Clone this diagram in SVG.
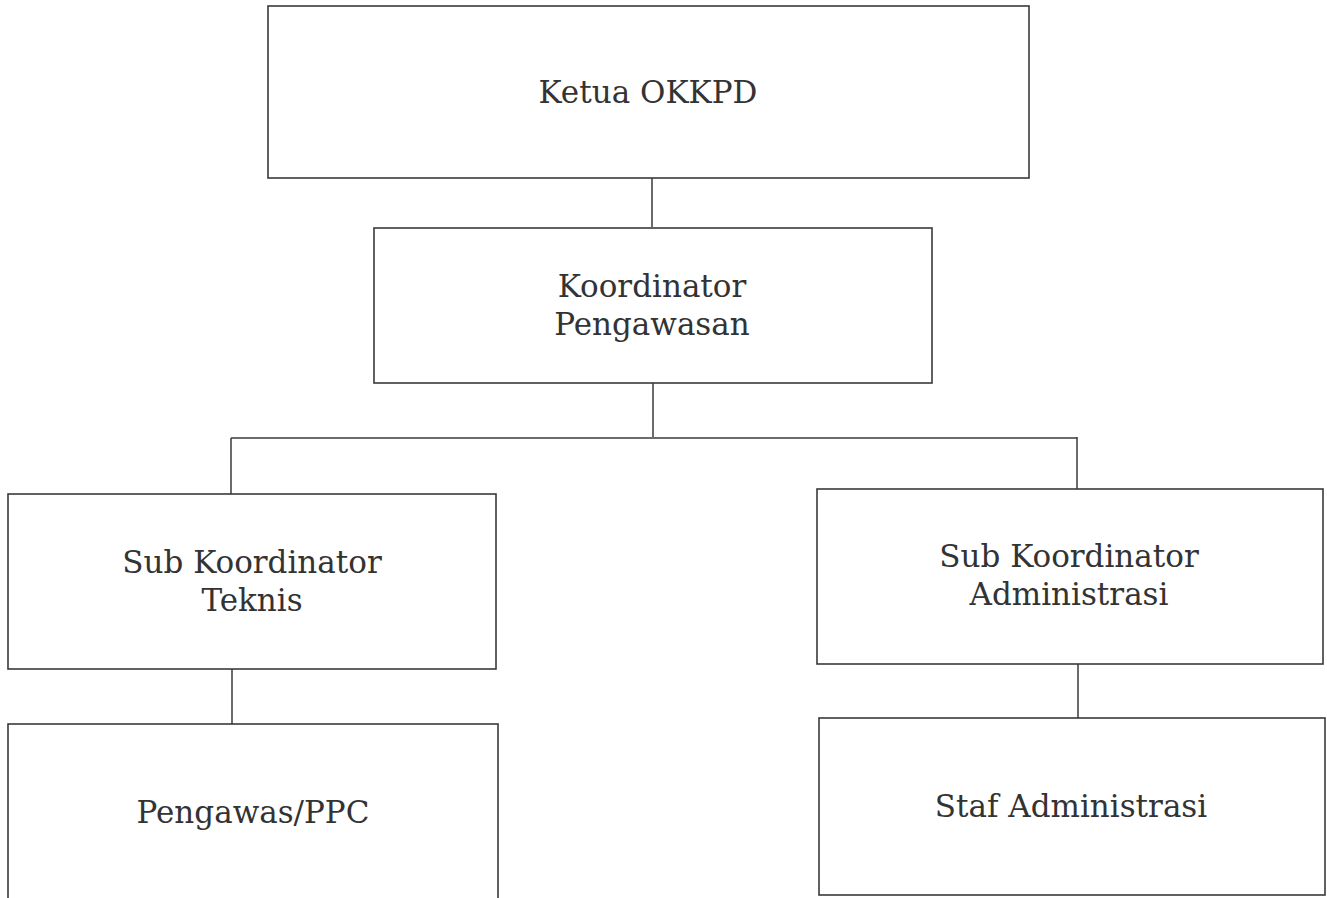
<svg xmlns="http://www.w3.org/2000/svg" width="1327" height="898" viewBox="0 0 1327 898">
<style>
.box{fill:#fff;stroke:#3a3a3a;stroke-width:1.6}
.lbl{font-family:"DejaVu Serif","Liberation Serif",serif;font-size:31px;fill:#333;text-anchor:middle}
.conn{fill:none;stroke:#3a3a3a;stroke-width:1.5}
</style>
<rect width="1327" height="898" fill="#fff"/>
<g id="connectors">
<path class="conn" d="M652 178V227"/>
<path class="conn" d="M653 383V437"/>
<path class="conn" d="M231 438H1077"/>
<path class="conn" d="M231 438V494"/>
<path class="conn" d="M1077 437V489"/>
<path class="conn" d="M232 669V724"/>
<path class="conn" d="M1078 664V718"/>
</g>
<g id="n1"><rect class="box" x="268" y="6" width="761" height="172"/><text class="lbl" x="648" y="103">Ketua OKKPD</text></g>
<g id="n2"><rect class="box" x="374" y="228" width="558" height="155"/><text class="lbl" x="652" y="297">Koordinator</text><text class="lbl" x="652" y="335">Pengawasan</text></g>
<g id="n3"><rect class="box" x="8" y="494" width="488" height="175"/><text class="lbl" x="252" y="573">Sub Koordinator</text><text class="lbl" x="252" y="611">Teknis</text></g>
<g id="n4"><rect class="box" x="817" y="489" width="506" height="175"/><text class="lbl" x="1069" y="567">Sub Koordinator</text><text class="lbl" x="1069" y="605">Administrasi</text></g>
<g id="n5"><rect class="box" x="8" y="724" width="490" height="180"/><text class="lbl" x="253" y="823">Pengawas/PPC</text></g>
<g id="n6"><rect class="box" x="819" y="718" width="506" height="177"/><text class="lbl" x="1071" y="817">Staf Administrasi</text></g>
</svg>
